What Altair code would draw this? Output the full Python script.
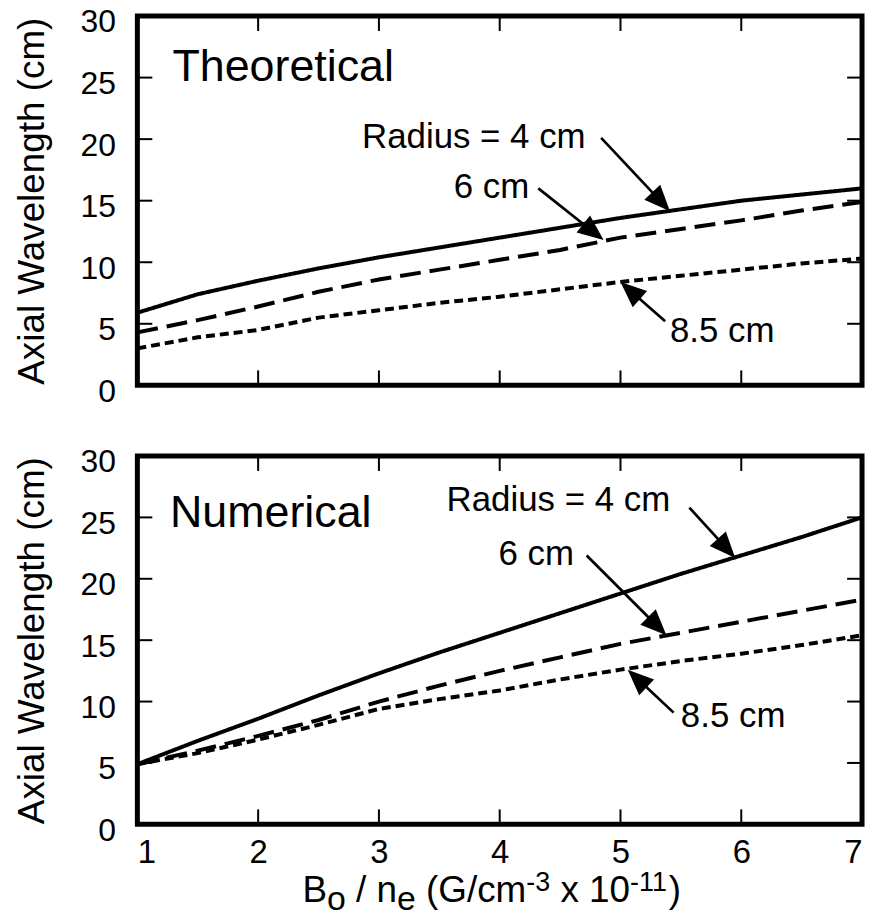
import math
import altair as alt
import pandas as pd

# ---------------- data ----------------
x_vals = [1, 1.5, 2, 2.5, 3, 3.5, 4, 4.5, 5, 5.5, 6, 6.5, 7]
series_names = ["4 cm", "6 cm", "8.5 cm"]

theo_r4 = [5.9, 7.4, 8.5, 9.5, 10.4, 11.2, 12.0, 12.8, 13.6, 14.3, 15.0, 15.5, 16.0]
theo_r6 = [4.3, 5.3, 6.4, 7.6, 8.6, 9.4, 10.2, 11.0, 12.0, 12.7, 13.4, 14.2, 14.9]
theo_r85 = [3.0, 3.9, 4.5, 5.5, 6.1, 6.7, 7.2, 7.8, 8.4, 8.9, 9.4, 9.9, 10.3]

num_r4 = [4.9, 6.8, 8.6, 10.5, 12.3, 14.0, 15.6, 17.2, 18.8, 20.4, 21.9, 23.4, 25.0]
num_r6 = [4.9, 6.0, 7.2, 8.5, 10.0, 11.3, 12.5, 13.6, 14.7, 15.6, 16.5, 17.4, 18.3]
num_r85 = [4.9, 5.8, 6.9, 8.1, 9.4, 10.2, 10.9, 11.8, 12.6, 13.3, 13.9, 14.6, 15.4]

x_ticks = [1, 2, 3, 4, 5, 6, 7]
y_ticks = [0, 5, 10, 15, 20, 25, 30]

ann_texts = ["Radius = 4 cm", "6 cm", "8.5 cm"]

theo_title = "Theoretical"
theo_title_x = [1.29]
theo_title_y = [24.7]
theo_label_x = [2.86, 3.62, 5.41]
theo_label_y = [19.3, 15.2, 3.5]
theo_arrow_x0 = [4.84, 4.32, 5.37]
theo_arrow_y0 = [20.1, 16.0, 5.2]
theo_arrow_x1 = [5.41, 4.86, 5.0]
theo_arrow_y1 = [14.15, 11.8, 8.4]

num_title = "Numerical"
num_title_x = [1.27]
num_title_y = [24.2]
num_label_x = [3.56, 3.99, 5.5]
num_label_y = [25.5, 21.1, 7.9]
num_arrow_x0 = [5.57, 4.72, 5.44]
num_arrow_y0 = [25.8, 21.9, 9.1]
num_arrow_x1 = [5.95, 5.38, 5.06]
num_arrow_y1 = [21.7, 15.4, 12.6]

y_title = "Axial Wavelength (cm)"
# x-axis title pieces: (text, role, number of spaces before it)
x_title_parts = [("B", "main", 0), ("o", "sub", 0), ("/", "main", 1), ("n", "main", 1),
                 ("e", "sub", 0), ("(G/cm", "main", 1), ("-3", "sup", 0),
                 ("x", "main", 1), ("10", "main", 1), ("-11", "sup", 0), (")", "main", 0)]

# ---------------- layout / style ----------------
FONT = "Liberation Sans"
W = 728
H1 = 371
H2 = 370
TICK = 15
HEAD = 26
HEAD_PATH = "M0,0L-0.42,1L0.42,1Z"

xs = alt.Scale(domain=[1, 7], nice=False, zero=False)
ys = alt.Scale(domain=[0, 30], nice=False, zero=False)


def to_px(x, y, H):
    return (x - 1) / 6 * W, H - y / 30 * H


def to_data(px, py, H):
    return 1 + px / W * 6, (H - py) / H * 30


def lines_df(a, b, c):
    rows = []
    for name, vals in zip(series_names, [a, b, c]):
        for x, y in zip(x_vals, vals):
            rows.append({"x": x, "y": y, "series": name})
    return pd.DataFrame(rows)


def arrow_df(x0s, y0s, x1s, y1s, H):
    rows = []
    for x0, y0, x1, y1 in zip(x0s, y0s, x1s, y1s):
        p0 = to_px(x0, y0, H)
        p1 = to_px(x1, y1, H)
        dx, dy = p1[0] - p0[0], p1[1] - p0[1]
        L = math.hypot(dx, dy)
        ang = math.degrees(math.atan2(dx, -dy)) % 360
        ex, ey = p1[0] - dx / L * HEAD * 0.6, p1[1] - dy / L * HEAD * 0.6
        xe, ye = to_data(ex, ey, H)
        rows.append({"x0": x0, "y0": y0, "xe": xe, "ye": ye,
                     "x1": x1, "y1": y1, "angle": ang})
    return pd.DataFrame(rows)


def panel(line_vals, title, tx, ty, lx, ly, ax0, ay0, ax1, ay1, H, show_x):
    ldf = lines_df(*line_vals)
    y_axis = alt.Axis(values=y_ticks, ticks=False, domain=False, grid=False,
                      labelFont=FONT, labelFontSize=32, labelColor="black",
                      labelPadding=22, labelOffset=6,
                      title=y_title, titleFont=FONT, titleFontSize=37,
                      titleFontWeight="normal", titleColor="black",
                      titlePadding=29)
    if show_x:
        x_axis = alt.Axis(values=x_ticks, ticks=False, domain=False, grid=False,
                          labelFont=FONT, labelFontSize=33, labelColor="black",
                          labelPadding=12, title=None, format="d")
    else:
        x_axis = None

    def X(f):
        return alt.X(f, scale=xs, axis=x_axis)

    def Y(f):
        return alt.Y(f, scale=ys, axis=y_axis)

    lines = alt.Chart(ldf).mark_line(color="black", strokeWidth=4).encode(
        x=X("x:Q"), y=Y("y:Q"),
        strokeDash=alt.StrokeDash("series:N", scale=alt.Scale(
            domain=series_names, range=[[1, 0], [21, 9], [9, 5]]), legend=None),
        detail="series:N",
    )
    frame = alt.Chart(pd.DataFrame({"a": [0]})).mark_rect(
        filled=False, stroke="black", strokeWidth=5).encode(
        x=alt.value(0), x2=alt.value(W), y=alt.value(0), y2=alt.value(H))
    xt = pd.DataFrame({"t": x_ticks})
    yt = pd.DataFrame({"t": y_ticks})
    tb = alt.Chart(xt).mark_rule(color="black", strokeWidth=2).encode(
        x=X("t:Q"), y=alt.value(H), y2=alt.value(H - TICK))
    tt = alt.Chart(xt).mark_rule(color="black", strokeWidth=2).encode(
        x=X("t:Q"), y=alt.value(0), y2=alt.value(TICK))
    tl = alt.Chart(yt).mark_rule(color="black", strokeWidth=2).encode(
        y=Y("t:Q"), x=alt.value(0), x2=alt.value(TICK))
    tr = alt.Chart(yt).mark_rule(color="black", strokeWidth=2).encode(
        y=Y("t:Q"), x=alt.value(W), x2=alt.value(W - TICK))

    tdf = pd.DataFrame({"x": tx, "y": ty, "text": [title]})
    ttl = alt.Chart(tdf).mark_text(align="left", baseline="alphabetic",
                                   font=FONT, fontSize=45, color="black").encode(
        x=X("x:Q"), y=Y("y:Q"), text="text:N")
    adf = pd.DataFrame({"x": lx, "y": ly, "text": ann_texts})
    labels = alt.Chart(adf).mark_text(align="left", baseline="alphabetic",
                                      font=FONT, fontSize=35, color="black").encode(
        x=X("x:Q"), y=Y("y:Q"), text="text:N")
    ar = arrow_df(ax0, ay0, ax1, ay1, H)
    shafts = alt.Chart(ar).mark_rule(color="black", strokeWidth=2.7).encode(
        x=X("x0:Q"), y=Y("y0:Q"), x2="xe:Q", y2="ye:Q")
    heads = alt.Chart(ar).mark_point(shape=HEAD_PATH, filled=True, color="black",
                                     opacity=1, strokeWidth=0,
                                     size=(2 * HEAD) ** 2).encode(
        x=X("x1:Q"), y=Y("y1:Q"), angle=alt.Angle("angle:Q", scale=None))
    layers = [lines, frame, tb, tt, tl, tr, ttl, labels, shafts, heads]

    if show_x:
        sizes = {"main": 37, "sub": 34, "sup": 27}
        shifts = {"main": 0, "sub": 8, "sup": -11}
        widths = {'B': 667, 'o': 556, ' ': 278, '/': 278, 'n': 556, 'e': 556,
                  '(': 333, 'G': 778, 'c': 500, 'm': 833, '-': 333, '3': 556,
                  'x': 500, '1': 556, '0': 556, ')': 333}
        placed = []
        pos = 0.0
        for t, r, sp in x_title_parts:
            pos += sp * widths[' '] / 1000 * sizes["main"]
            placed.append((t, r, pos))
            pos += sum(widths[ch] for ch in t) / 1000 * sizes[r]
        total = pos
        cx = W / 2 - 8
        base = H + 78
        start = cx - total / 2
        for t, r, p in placed:
            layers.append(alt.Chart(pd.DataFrame({"text": [t]})).mark_text(
                align="left", baseline="alphabetic", font=FONT,
                fontSize=sizes[r], color="black").encode(
                x=alt.value(start + p), y=alt.value(base + shifts[r]), text="text:N"))

    return alt.layer(*layers).properties(width=W, height=H)


top = panel([theo_r4, theo_r6, theo_r85], theo_title, theo_title_x, theo_title_y,
            theo_label_x, theo_label_y, theo_arrow_x0, theo_arrow_y0,
            theo_arrow_x1, theo_arrow_y1, H1, False)
bottom = panel([num_r4, num_r6, num_r85], num_title, num_title_x, num_title_y,
               num_label_x, num_label_y, num_arrow_x0, num_arrow_y0,
               num_arrow_x1, num_arrow_y1, H2, True)

chart = alt.vconcat(top, bottom, spacing=37,
                    padding={"left": 12, "top": 3, "right": 0, "bottom": 0}
                    ).configure_view(strokeWidth=0
                    ).configure(background="white")

chart.save("out.html", embed_options={"renderer": "svg", "actions": False})
